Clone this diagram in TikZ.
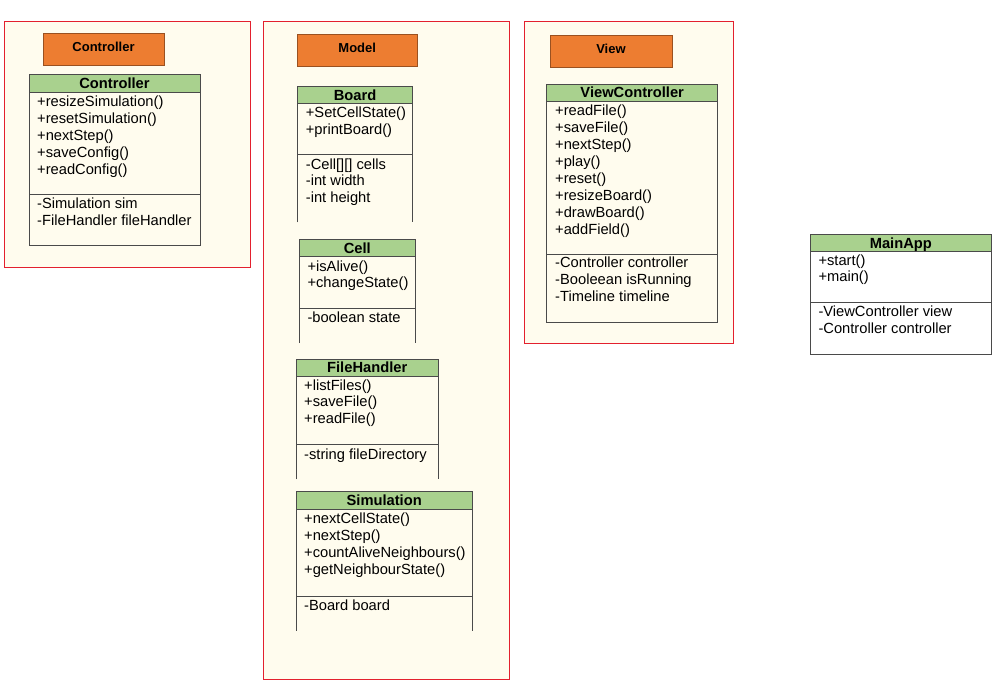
\documentclass[tikz,border=0pt]{standalone}
\usepackage{fontspec}
\setmainfont{Liberation Sans}

\definecolor{pkgfill}{HTML}{FFFCEE}
\definecolor{pkgline}{HTML}{E3202E}
\definecolor{tabfill}{HTML}{ED7D31}
\definecolor{headfill}{HTML}{A9D18E}
\definecolor{frameline}{HTML}{4A4A4A}

\tikzset{
  pkg/.style={fill=pkgfill, draw=pkgline, line width=0.9pt},
  pkgtab/.style={fill=tabfill, draw=tabfill!65!black, line width=0.6pt},
  tabtext/.style={font=\fontsize{13}{15}\selectfont\bfseries, anchor=base, inner sep=0pt},
  head/.style={fill=headfill},
  frame/.style={draw=frameline, line width=0.9pt},
  cname/.style={font=\fontsize{14.7}{17}\selectfont\bfseries, anchor=base, inner sep=0pt},
  member/.style={font=\fontsize{14.7}{17}\selectfont, anchor=base west, inner sep=0pt},
}

% one text line per member: prefix, left x, first baseline, list
\newcommand\memberlines[4]{%
  \foreach \t [count=\i] in {#4}
    \node[member] (#1-\i) at (#2, {#3+16.9*(\i-1)}) {\t};}

\begin{document}
\begin{tikzpicture}[x=1pt, y=-1pt]
  \useasboundingbox (0,0) rectangle (997,697);

  % ---------- packages ----------
  \draw[pkg] (4.5,21) rectangle (250.5,267);
  \draw[pkg] (263.5,21) rectangle (509.5,679);
  \draw[pkg] (524.5,21) rectangle (733.5,343);

  \draw[pkgtab] (43,33.5) rectangle (164,65.5);
  \node[tabtext] (tab-controller) at (103.5,51) {Controller};
  \draw[pkgtab] (297,34) rectangle (417.5,66.5);
  \node[tabtext] (tab-model) at (357.2,52.3) {Model};
  \draw[pkgtab] (550,35) rectangle (672,67.5);
  \node[tabtext] (tab-view) at (611,53.3) {View};

  % ---------- Controller ----------
  \fill[head] (29,74.3) rectangle (200,92.3);
  \draw[frame] (29,74.3) rectangle (200,245);
  \draw[frame] (29,92.3) -- (200,92.3);
  \draw[frame] (29,194.3) -- (200,194.3);
  \node[cname] (controller) at (114.5,88.3) {Controller};
  \memberlines{controller-op}{37}{106.5}{+resizeSimulation(),+resetSimulation(),+nextStep(),+saveConfig(),+readConfig()}
  \memberlines{controller-at}{37}{208.3}{-Simulation sim,-FileHandler fileHandler}

  % ---------- Board ----------
  \fill[head] (297.3,86) rectangle (412.7,103.3);
  \draw[frame] (297.3,222.3) -- (297.3,86) -- (412.7,86) -- (412.7,222.3);
  \draw[frame] (297.3,103.3) -- (412.7,103.3);
  \draw[frame] (297.3,154.3) -- (412.7,154.3);
  \node[cname] (board) at (355,100) {Board};
  \memberlines{board-op}{305.7}{117.7}{+SetCellState(),+printBoard()}
  \memberlines{board-at}{305.7}{169}{-Cell[][] cells,-int width,-int height}

  % ---------- Cell ----------
  \fill[head] (299.3,239.3) rectangle (415.3,256.7);
  \draw[frame] (299.3,343) -- (299.3,239.3) -- (415.3,239.3) -- (415.3,343);
  \draw[frame] (299.3,256.7) -- (415.3,256.7);
  \draw[frame] (299.3,308.3) -- (415.3,308.3);
  \node[cname] (cell) at (357.3,253.3) {Cell};
  \memberlines{cell-op}{307.3}{271}{+isAlive(),+changeState()}
  \memberlines{cell-at}{307.3}{322.3}{-boolean state}

  % ---------- FileHandler ----------
  \fill[head] (296,359.3) rectangle (438.3,376);
  \draw[frame] (296,479.3) -- (296,359.3) -- (438.3,359.3) -- (438.3,479.3);
  \draw[frame] (296,376) -- (438.3,376);
  \draw[frame] (296,444.3) -- (438.3,444.3);
  \node[cname] (filehandler) at (367.2,372.3) {FileHandler};
  \memberlines{filehandler-op}{304}{390}{+listFiles(),+saveFile(),+readFile()}
  \memberlines{filehandler-at}{304}{459.3}{-string fileDirectory}

  % ---------- Simulation ----------
  \fill[head] (296,491.7) rectangle (472.3,509);
  \draw[frame] (296,630.7) -- (296,491.7) -- (472.3,491.7) -- (472.3,630.7);
  \draw[frame] (296,509) -- (472.3,509);
  \draw[frame] (296,596.7) -- (472.3,596.7);
  \node[cname] (simulation) at (384.2,505.7) {Simulation};
  \memberlines{simulation-op}{304}{523.3}{+nextCellState(),+nextStep(),+countAliveNeighbours(),+getNeighbourState()}
  \memberlines{simulation-at}{304}{610.7}{-Board board}

  % ---------- ViewController ----------
  \fill[head] (546.7,84.3) rectangle (717.7,101.7);
  \draw[frame] (546.7,84.3) rectangle (717.7,322);
  \draw[frame] (546.7,101.7) -- (717.7,101.7);
  \draw[frame] (546.7,254.3) -- (717.7,254.3);
  \node[cname] (viewcontroller) at (632.2,97.7) {ViewController};
  \memberlines{viewcontroller-op}{555}{115.7}{+readFile(),+saveFile(),+nextStep(),+play(),+reset(),+resizeBoard(),+drawBoard(),+addField()}
  \memberlines{viewcontroller-at}{555}{267.7}{-Controller controller,-Booleean isRunning,-Timeline timeline}

  % ---------- MainApp ----------
  \fill[head] (810.7,234.3) rectangle (991,251.7);
  \draw[frame] (810.7,234.3) rectangle (991,354.3);
  \draw[frame] (810.7,251.7) -- (991,251.7);
  \draw[frame] (810.7,302.3) -- (991,302.3);
  \node[cname] (mainapp) at (900.8,248.3) {MainApp};
  \memberlines{mainapp-op}{818.3}{265}{+start(),+main()}
  \memberlines{mainapp-at}{818.3}{316.7}{-ViewController view,-Controller controller}
\end{tikzpicture}
\end{document}
